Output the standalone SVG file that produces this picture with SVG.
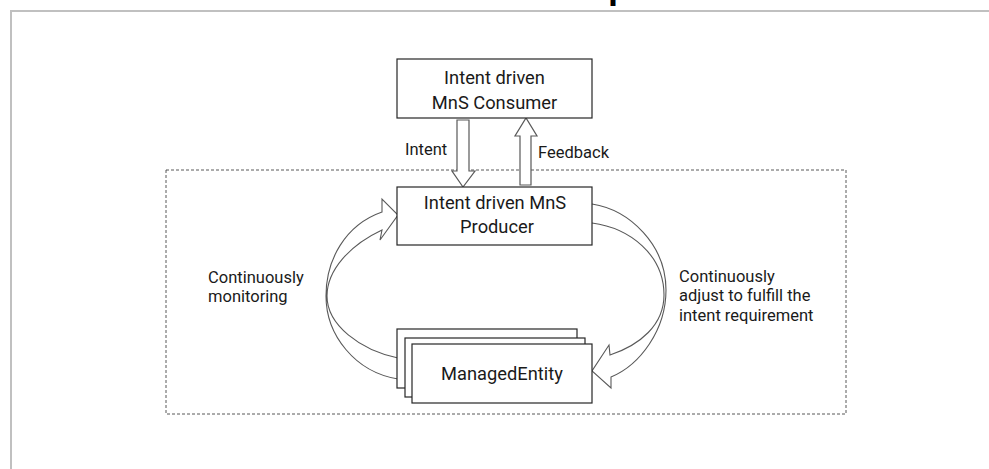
<svg xmlns="http://www.w3.org/2000/svg" width="989" height="469" viewBox="0 0 989 469">
<style>
.box{fill:#fff;stroke:#262626;stroke-width:1.2}
.blk{fill:#fff;stroke:#595959;stroke-width:1.2}
.crv{fill:none;stroke:#595959;stroke-width:1.1}
.t{font-family:Roboto,"Noto Sans",sans-serif;font-size:18.3px;fill:#1a1a1a;text-anchor:middle}
.l{font-family:Roboto,"Noto Sans",sans-serif;font-size:16.5px;fill:#1a1a1a}
</style>
<rect width="989" height="469" fill="#fff"/>
<path d="M11,469 V11 H989" fill="none" stroke="#c0c0c0" stroke-width="2"/>
<text x="608" y="-2" font-family="Liberation Sans,sans-serif" font-weight="bold" font-size="36" fill="#000">p</text>
<rect id="boundary" x="166" y="170" width="680" height="244" fill="none" stroke="#595959" stroke-width="1" stroke-dasharray="3,2"/>
<g id="connectors">
<path class="blk" d="M457,120 H469 V171 H475 L463,187 L452,171 H457 Z"/>
<path class="blk" d="M520,185 V136 H515 L526,118 L537,136 H531 V185 Z"/>
<path class="crv" d="M398,358 C360,350 327,325 327,296 C327,270 350,245 382,230 L380,240 L398,215 L382,199 L382,212 C345,225 326,260 326,296 C326,335 355,372 398,379"/>
<path class="crv" d="M592,204 C630,210 666,245 666,290 C666,330 640,365 611,377 L611,388 L592,371 L609,345 L610,355 C640,345 664,325 664,295 C664,255 630,228 592,223"/>
<text class="l" x="405" y="155">Intent</text>
<text class="l" x="538" y="158">Feedback</text>
<text class="l" x="208" y="283">Continuously<tspan x="208" dy="19.4">monitoring</tspan></text>
<text class="l" x="679" y="282">Continuously<tspan x="679" dy="19.4">adjust to fulfill the</tspan><tspan x="679" dy="19.4">intent requirement</tspan></text>
</g>
<g id="consumer">
<rect class="box" x="397" y="59" width="195" height="59"/>
<text class="t" x="494.5" y="84">Intent driven<tspan x="494.5" dy="25">MnS Consumer</tspan></text>
</g>
<g id="producer">
<rect class="box" x="397" y="187" width="195" height="58"/>
<text class="t" x="495" y="209">Intent driven MnS<tspan x="497" dy="24">Producer</tspan></text>
</g>
<g id="managedEntity">
<rect class="box" x="397" y="329" width="180" height="59"/>
<rect class="box" x="405" y="338" width="180" height="59"/>
<rect class="box" x="412" y="344" width="180" height="59"/>
<text class="t" x="502" y="380">ManagedEntity</text>
</g>
</svg>
